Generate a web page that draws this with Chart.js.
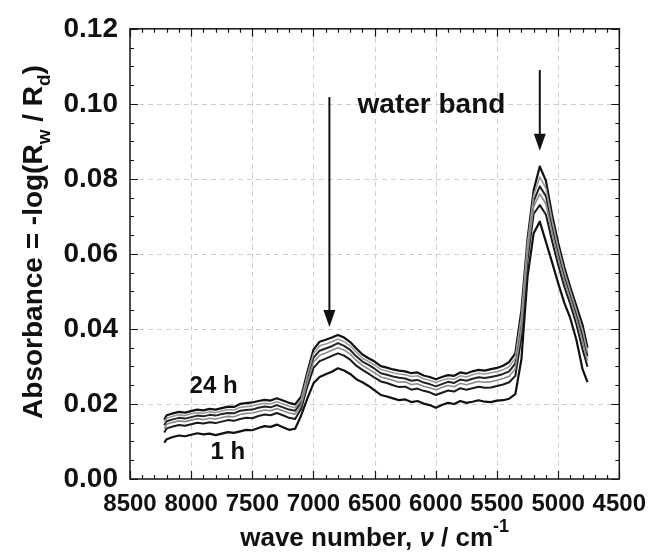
<!DOCTYPE html>
<html>
<head>
<meta charset="utf-8">
<script src="https://cdn.jsdelivr.net/npm/chart.js@4/dist/chart.umd.min.js"></script>
<style>
  html, body { margin: 0; padding: 0; background: #fff; }
  #wrap { width: 657px; height: 558px; }
</style>
</head>
<body>
<div id="wrap"><canvas id="c" width="657" height="558"></canvas></div>
<script>
// Wave numbers (cm^-1) shared by all spectra
const wavenumbers = [8220,8200,8150,8100,8050, 8000,7950,7900,7850,7800, 7750,7700,7650,7600,7550,
  7500,7450,7400,7350,7300, 7250,7200,7150,7100,7050, 7000,6950,6900,6850,6800, 6750,6700,6650,6600,6550,
  6500,6450,6400,6350,6300, 6250,6200,6150,6100,6050, 6000,5950,5900,5850,5800, 5750,5700,5650,5600,5550,
  5500,5450,5400,5350,5300, 5250,5200,5150,5100,5050, 5000,4950,4900,4850,4800, 4760];

// Absorbance spectra after increasing exposure time
const abs1h = [0.0097,0.0106,0.0112,0.0116,0.0114, 0.0118,0.0122,0.0119,0.0121,0.0117, 0.0121,0.0125,0.0123,0.0127,0.0131,
  0.0130,0.0136,0.0141,0.0139,0.0145, 0.0138,0.0131,0.0134,0.0170,0.0215, 0.0255,0.0272,0.0279,0.0286,0.0295, 0.0289,0.0280,0.0266,0.0258,0.0248,
  0.0236,0.0224,0.0220,0.0215,0.0210, 0.0212,0.0205,0.0208,0.0201,0.0197, 0.0190,0.0197,0.0203,0.0200,0.0208, 0.0203,0.0206,0.0210,0.0206,0.0205,
  0.0209,0.0210,0.0214,0.0226,0.0320, 0.0540,0.0655,0.0686,0.0632,0.0578, 0.0522,0.0470,0.0428,0.0370,0.0292, 0.0258];
const abs2h = [0.0124,0.0135,0.0140,0.0144,0.0142, 0.0146,0.0150,0.0148,0.0151,0.0149, 0.0153,0.0157,0.0155,0.0160,0.0163,
  0.0162,0.0168,0.0172,0.0170,0.0176, 0.0170,0.0163,0.0160,0.0188,0.0247, 0.0296,0.0314,0.0321,0.0328,0.0335, 0.0329,0.0318,0.0302,0.0291,0.0281,
  0.0270,0.0260,0.0256,0.0250,0.0245, 0.0246,0.0238,0.0241,0.0235,0.0231, 0.0224,0.0230,0.0236,0.0233,0.0242, 0.0238,0.0242,0.0246,0.0243,0.0244,
  0.0248,0.0252,0.0258,0.0275,0.0379, 0.0585,0.0707,0.0730,0.0705,0.0635, 0.0571,0.0513,0.0465,0.0411,0.0345, 0.0299];
const abs4h = [0.0135,0.0146,0.0151,0.0155,0.0153, 0.0157,0.0161,0.0158,0.0162,0.0160, 0.0164,0.0167,0.0166,0.0172,0.0175,
  0.0176,0.0180,0.0184,0.0182,0.0188, 0.0182,0.0176,0.0173,0.0198,0.0258, 0.0311,0.0330,0.0336,0.0343,0.0350, 0.0344,0.0333,0.0316,0.0303,0.0293,
  0.0283,0.0272,0.0268,0.0263,0.0258, 0.0259,0.0252,0.0254,0.0247,0.0243, 0.0238,0.0244,0.0249,0.0246,0.0255, 0.0251,0.0256,0.0260,0.0258,0.0259,
  0.0263,0.0268,0.0274,0.0294,0.0401, 0.0602,0.0726,0.0760,0.0733,0.0657, 0.0589,0.0529,0.0479,0.0426,0.0365, 0.0315];
const abs8h = [0.0143,0.0154,0.0159,0.0163,0.0161, 0.0165,0.0169,0.0167,0.0171,0.0169, 0.0173,0.0176,0.0175,0.0182,0.0184,
  0.0185,0.0190,0.0193,0.0191,0.0197, 0.0191,0.0185,0.0182,0.0205,0.0268, 0.0323,0.0342,0.0348,0.0354,0.0362, 0.0355,0.0344,0.0327,0.0313,0.0304,
  0.0294,0.0282,0.0278,0.0273,0.0270, 0.0268,0.0262,0.0264,0.0257,0.0253, 0.0247,0.0253,0.0259,0.0256,0.0265, 0.0262,0.0267,0.0271,0.0269,0.0272,
  0.0275,0.0280,0.0287,0.0308,0.0418, 0.0615,0.0741,0.0780,0.0754,0.0673, 0.0603,0.0541,0.0490,0.0438,0.0381, 0.0327];
const abs16h = [0.0151,0.0162,0.0167,0.0171,0.0169, 0.0174,0.0177,0.0175,0.0179,0.0177, 0.0181,0.0185,0.0184,0.0191,0.0193,
  0.0195,0.0199,0.0202,0.0200,0.0206, 0.0200,0.0194,0.0190,0.0212,0.0277, 0.0334,0.0355,0.0360,0.0366,0.0373, 0.0366,0.0355,0.0338,0.0322,0.0313,
  0.0304,0.0292,0.0288,0.0283,0.0280, 0.0278,0.0273,0.0275,0.0267,0.0263, 0.0257,0.0263,0.0268,0.0266,0.0275, 0.0272,0.0278,0.0282,0.0280,0.0283,
  0.0286,0.0291,0.0300,0.0322,0.0434, 0.0628,0.0756,0.0805,0.0775,0.0690, 0.0617,0.0554,0.0500,0.0449,0.0396, 0.0339];
const abs24h = [0.0158,0.0170,0.0175,0.0179,0.0177, 0.0181,0.0185,0.0183,0.0187,0.0185, 0.0189,0.0193,0.0192,0.0200,0.0202,
  0.0204,0.0208,0.0211,0.0209,0.0215, 0.0209,0.0203,0.0199,0.0220,0.0285, 0.0345,0.0366,0.0371,0.0377,0.0384, 0.0377,0.0365,0.0348,0.0332,0.0322,
  0.0313,0.0301,0.0297,0.0292,0.0289, 0.0287,0.0282,0.0284,0.0276,0.0272, 0.0266,0.0272,0.0277,0.0275,0.0284, 0.0281,0.0287,0.0291,0.0289,0.0293,
  0.0296,0.0302,0.0312,0.0335,0.0450, 0.0640,0.0770,0.0833,0.0795,0.0705, 0.0630,0.0565,0.0510,0.0460,0.0410, 0.0350];

// Axis ranges and tick steps
const xRange = [4500, 8500];
const xMajorStep = 500, xMinorStep = 100;
const yRange = [0, 0.12];
const yMajorStep = 0.02, yMinorStep = 0.005;

// Annotations in data units
const bandArrows = [
  { nu: 6870, from: 0.1018, to: 0.0405 },
  { nu: 5150, from: 0.1090, to: 0.0875 }
];
const bandLabel = { text: 'water band', nu: 6640, y: 0.0995 };
const timeLabels = [
  { text: '24 h', nu: 7817, y: 0.0247 },
  { text: '1 h',  nu: 7700, y: 0.0072 }
];

const FONT = '"Liberation Sans", Arial, Helvetica, sans-serif';
const toPoints = arr => wavenumbers.map((nu, i) => ({ x: nu, y: arr[i] }));

function spectrum(label, arr, color, width) {
  return { label, data: toPoints(arr), borderColor: color, borderWidth: width,
           pointRadius: 0, tension: 0, fill: false, borderJoinStyle: 'round' };
}

// Dashed grid at the major ticks, behind the spectra
const dashedGrid = {
  id: 'dashedGrid',
  beforeDatasetsDraw(chart) {
    const { ctx, chartArea: a } = chart;
    const xs = chart.scales.x, ys = chart.scales.y;
    ctx.save();
    ctx.strokeStyle = '#cdcdcd';
    ctx.lineWidth = 1;
    ctx.setLineDash([5, 4]);
    ctx.beginPath();
    for (let v = xRange[0] + xMajorStep; v < xRange[1]; v += xMajorStep) {
      const px = Math.round(xs.getPixelForValue(v)) + 0.5;
      ctx.moveTo(px, a.top); ctx.lineTo(px, a.bottom);
    }
    const n = Math.round((yRange[1] - yRange[0]) / yMajorStep);
    for (let k = 1; k < n; k++) {
      const py = Math.round(ys.getPixelForValue(yRange[0] + k * yMajorStep)) + 0.5;
      ctx.moveTo(a.left, py); ctx.lineTo(a.right, py);
    }
    ctx.stroke();
    ctx.restore();
  }
};

// Frame, inward ticks, arrows and titles
const decorations = {
  id: 'decorations',
  afterDraw(chart) {
    const { ctx, chartArea: a } = chart;
    const xs = chart.scales.x, ys = chart.scales.y;
    ctx.save();
    ctx.strokeStyle = '#151515';
    ctx.lineWidth = 1.5;
    ctx.strokeRect(a.left, a.top, a.right - a.left, a.bottom - a.top);

    ctx.lineWidth = 1.2;
    ctx.beginPath();
    for (let v = xRange[0]; v <= xRange[1] + 1e-9; v += xMinorStep) {
      const px = Math.round(xs.getPixelForValue(v)) + 0.5;
      const len = (v % xMajorStep === 0) ? 8 : 4;
      ctx.moveTo(px, a.bottom); ctx.lineTo(px, a.bottom - len);
      ctx.moveTo(px, a.top);    ctx.lineTo(px, a.top + len);
    }
    const nY = Math.round((yRange[1] - yRange[0]) / yMinorStep);
    const per = Math.round(yMajorStep / yMinorStep);
    for (let k = 0; k <= nY; k++) {
      const py = Math.round(ys.getPixelForValue(yRange[0] + k * yMinorStep)) + 0.5;
      const len = (k % per === 0) ? 8 : 4;
      ctx.moveTo(a.left, py);  ctx.lineTo(a.left + len, py);
      ctx.moveTo(a.right, py); ctx.lineTo(a.right - len, py);
    }
    ctx.stroke();

    // arrows marking the water bands
    ctx.fillStyle = '#111';
    ctx.strokeStyle = '#111';
    ctx.lineWidth = 2;
    bandArrows.forEach(ar => {
      const px = xs.getPixelForValue(ar.nu);
      const y0 = ys.getPixelForValue(ar.from), y1 = ys.getPixelForValue(ar.to);
      ctx.beginPath(); ctx.moveTo(px, y0); ctx.lineTo(px, y1 - 14); ctx.stroke();
      ctx.beginPath(); ctx.moveTo(px - 6, y1 - 17); ctx.lineTo(px + 6, y1 - 17);
      ctx.lineTo(px, y1); ctx.closePath(); ctx.fill();
    });

    ctx.textBaseline = 'middle';
    ctx.font = 'bold 28px ' + FONT;
    ctx.textAlign = 'left';
    ctx.fillText(bandLabel.text, xs.getPixelForValue(bandLabel.nu), ys.getPixelForValue(bandLabel.y));
    ctx.textAlign = 'center';
    ctx.font = 'bold 24px ' + FONT;
    timeLabels.forEach(t => ctx.fillText(t.text, xs.getPixelForValue(t.nu), ys.getPixelForValue(t.y)));

    // x axis title: wave number, ν / cm^-1
    ctx.textBaseline = 'alphabetic';
    ctx.textAlign = 'left';
    let big = 'bold 26px ' + FONT, ital = 'italic bold 26px ' + FONT, small = 'bold 18px ' + FONT;
    const xParts = [
      { t: 'wave number, ', f: big, dy: 0 },
      { t: 'ν', f: ital, dy: 0 },
      { t: ' / cm', f: big, dy: 0 },
      { t: '-1', f: small, dy: -14 }
    ];
    let w = 0;
    xParts.forEach(p => { ctx.font = p.f; p.w = ctx.measureText(p.t).width; w += p.w; });
    let cx = (a.left + a.right) / 2 - w / 2;
    const base = 546;
    xParts.forEach(p => { ctx.font = p.f; ctx.fillText(p.t, cx, base + p.dy); cx += p.w; });

    // y axis title: Absorbance = -log(R_w / R_d)
    big = 'bold 28px ' + FONT; small = 'bold 19px ' + FONT;
    const yParts = [
      { t: 'Absorbance = -log(R', f: big, dy: 0 },
      { t: 'w', f: small, dy: 8 },
      { t: ' / R', f: big, dy: 0 },
      { t: 'd', f: small, dy: 8 },
      { t: ')', f: big, dy: 0 }
    ];
    w = 0;
    yParts.forEach(p => { ctx.font = p.f; p.w = ctx.measureText(p.t).width; w += p.w; });
    ctx.translate(42, 242);
    ctx.rotate(-Math.PI / 2);
    cx = -w / 2;
    yParts.forEach(p => { ctx.font = p.f; ctx.fillText(p.t, cx, p.dy); cx += p.w; });
    ctx.restore();
  }
};

new Chart(document.getElementById('c'), {
  type: 'line',
  data: {
    datasets: [
      spectrum('4 h',  abs4h,  '#8a8a8a', 1.6),
      spectrum('16 h', abs16h, '#9a9a9a', 1.6),
      spectrum('2 h',  abs2h,  '#1a1a1a', 2),
      spectrum('8 h',  abs8h,  '#2a2020', 2),
      spectrum('1 h',  abs1h,  '#111111', 2.2),
      spectrum('24 h', abs24h, '#111111', 2.2)
    ]
  },
  options: {
    responsive: false,
    animation: false,
    devicePixelRatio: 1,
    layout: { padding: { top: 23, right: 29, left: 0, bottom: 0 } },
    plugins: { legend: { display: false }, tooltip: { enabled: false } },
    scales: {
      x: {
        type: 'linear', reverse: true, min: xRange[0], max: xRange[1],
        afterFit: s => { s.height = 79; },
        grid: { display: false, drawTicks: false },
        border: { display: false },
        ticks: { stepSize: xMajorStep, padding: 11, color: '#111',
                 font: { family: FONT, size: 24, weight: 'bold' },
                 maxRotation: 0, autoSkip: false, callback: v => String(v) }
      },
      y: {
        type: 'linear', min: yRange[0], max: yRange[1],
        afterFit: s => { s.width = 130; },
        grid: { display: false, drawTicks: false },
        border: { display: false },
        ticks: { stepSize: yMajorStep, padding: 12, color: '#111',
                 font: { family: FONT, size: 28, weight: 'bold' },
                 callback: v => v.toFixed(2) }
      }
    }
  },
  plugins: [dashedGrid, decorations]
});
</script>
</body>
</html>
